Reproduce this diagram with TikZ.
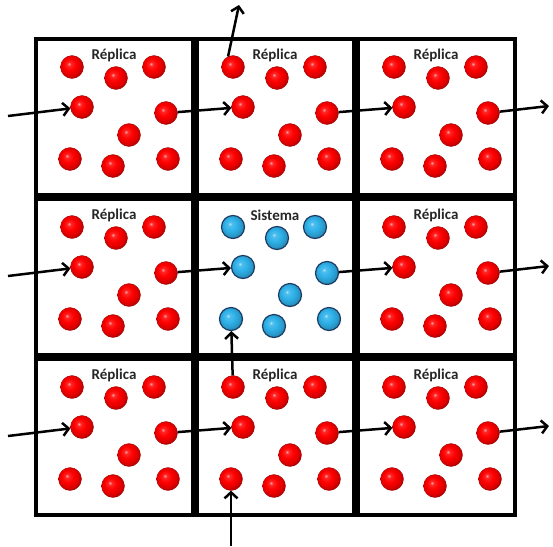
\documentclass[tikz,border=0pt]{standalone}
\usepackage{fontspec}
\setmainfont{Carlito}
\usetikzlibrary{arrows.meta}
\definecolor{sysblue}{HTML}{2FB2EA}
\definecolor{sysedge}{HTML}{1E3D66}
\definecolor{repred}{HTML}{FF0000}
\pgfdeclareradialshading{redball}{\pgfpoint{-7bp}{7bp}}{color(0bp)=(repred!30!white); color(4bp)=(repred!85!white); color(13bp)=(repred); color(23bp)=(repred!85!black); color(32bp)=(repred!55!black); color(50bp)=(repred!55!black)}
\pgfdeclareradialshading{blueball}{\pgfpoint{-7bp}{7bp}}{color(0bp)=(sysblue!30!white); color(4bp)=(sysblue!85!white); color(13bp)=(sysblue); color(23bp)=(sysblue!85!black); color(32bp)=(sysblue!60!black); color(50bp)=(sysblue!60!black)}
% positions of the nine particles inside one cell
\newcommand\atomlist{1/38/30, 2/82/41, 3/120/30, 4/48/70, 5/132/76, 6/95/98, 7/36/122, 8/79/129, 9/134/122}

\begin{document}
\begin{tikzpicture}[x=1pt, y=-1pt,
    cell/.style={draw, line width=4pt},
    atom/.style={circle, minimum size=23pt, inner sep=0pt, shading=#1},
    rep/.style={atom=redball, draw=red!60!black, line width=0.3pt},
    sys/.style={atom=blueball, draw=sysedge, line width=1.2pt},
    tag/.style={font=\fontsize{15}{15}\selectfont\bfseries, text=black!85, inner sep=0pt},
    hop/.style={-{Straight Barb[length=6pt, width=13pt]}, line width=2.5pt},
]
    \useasboundingbox (0,0) rectangle (553,546);

    \foreach \i/\x in {0/34, 1/195, 2/356} {
        \foreach \j/\y in {0/37, 1/197, 2/357} {
            \ifnum\i\j=11 \def\kind{sys}\def\word{Sistema}\else\def\kind{rep}\def\word{Réplica}\fi
            \draw[cell] (\x+2, \y+2) rectangle (\x+159, \y+158);
            \foreach \k/\dx/\dy in \atomlist
                \node[\kind] (a-\i-\j-\k) at (\x+\dx, \y+\dy) {};
            \node[tag] (t-\i-\j) at (\x+80, \y+18) {\word};
        }
    }

    % particles crossing the walls, row by row
    \foreach \j/\y in {0/37, 1/197, 2/357} {
        \coordinate (in-\j) at (8, \y+79);
        \coordinate (out-\j) at (549, \y+69);
        \draw[hop] (in-\j) -- (a-0-\j-4);
        \draw[hop] (a-0-\j-5) -- (a-1-\j-4);
        \draw[hop] (a-1-\j-5) -- (a-2-\j-4);
        \draw[hop] (a-2-\j-5) -- (out-\j);
    }

    \coordinate (up) at (239,5);
    \coordinate (down) at (231,546);
    \draw[hop] (a-1-0-1.115) -- (up);
    \draw[hop] (a-1-2-1) -- (a-1-1-7);
    \draw[hop] (down) -- (a-1-2-7);
\end{tikzpicture}
\end{document}
